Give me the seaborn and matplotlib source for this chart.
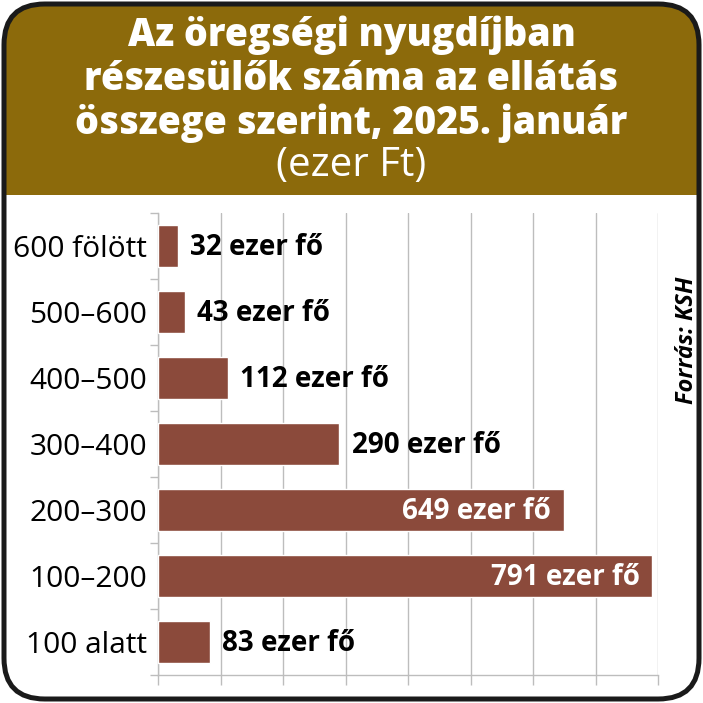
import matplotlib
matplotlib.use("Agg")
import matplotlib.pyplot as plt
import seaborn as sns
import pandas as pd
from matplotlib.patches import FancyBboxPatch, Rectangle
from matplotlib.ticker import MultipleLocator, FixedLocator

categories = ["600 fölött", "500–600", "400–500", "300–400", "200–300", "100–200", "100 alatt"]
values = [32, 43, 112, 290, 649, 791, 83]
value_labels = ["32 ezer fő", "43 ezer fő", "112 ezer fő", "290 ezer fő", "649 ezer fő", "791 ezer fő", "83 ezer fő"]
title_lines = ["Az öregségi nyugdíjban", "részesülők száma az ellátás", "összege szerint, 2025. január"]
subtitle = "(ezer Ft)"
source = "Forrás: KSH"

HEADER = "#8C6A0B"
BAR = "#8B4A3B"
GRID = "#BDBDBD"
FONT = "Open Sans"

sns.set_theme(style="white")
plt.rcParams["font.family"] = [FONT, "DejaVu Sans"]

W = H = 703
fig = plt.figure(figsize=(W / 100, H / 100), dpi=100)
fig.patch.set_facecolor("white")

frame = FancyBboxPatch((4 / W, 4 / H), (W - 8) / W, (H - 8) / H,
                       boxstyle="round,pad=0,rounding_size=0.058",
                       transform=fig.transFigure, facecolor="white",
                       edgecolor="none", linewidth=0, zorder=-3)
fig.patches.append(frame)
header = Rectangle((0, (H - 195) / H), 1, 195 / H, transform=fig.transFigure,
                   facecolor=HEADER, edgecolor="none", zorder=-2)
header.set_clip_path(frame)
fig.patches.append(header)
frame2 = FancyBboxPatch((4 / W, 4 / H), (W - 8) / W, (H - 8) / H,
                        boxstyle="round,pad=0,rounding_size=0.058",
                        transform=fig.transFigure, facecolor="none",
                        edgecolor="#1a1a1a", linewidth=3.6, zorder=10)
fig.patches.append(frame2)

for i, line in enumerate(title_lines):
    fig.text(0.5, 1 - (35 + 44 * i) / H, line, ha="center", va="center",
             color="white", fontsize=27, fontweight="heavy")
fig.text(0.5, 1 - 166 / H, subtitle, ha="center", va="center",
         color="white", fontsize=29, fontweight="normal")
fig.text(687 / W, 1 - 340 / H, source, ha="center", va="center", rotation=90,
         color="black", fontsize=17, fontweight="bold", style="italic")

ax = fig.add_axes([158 / W, (H - 675) / H, 500 / W, 462 / H])
df = pd.DataFrame({"cat": categories, "val": values})
sns.barplot(data=df, y="cat", x="val", orient="h", color=BAR, saturation=1,
            width=0.63, ax=ax, zorder=3)
ax.set_xlim(0, 800)
ax.set_ylim(6.5, -0.5)
ax.set_xlabel("")
ax.set_ylabel("")
ax.set_facecolor("none")

ax.xaxis.set_major_locator(MultipleLocator(100))
ax.set_xticklabels([])
ax.grid(axis="x", color=GRID, linewidth=1, zorder=0)
ax.grid(axis="y", visible=False)
ax.set_axisbelow(True)
ax.tick_params(axis="x", which="major", bottom=True, length=7, color=GRID, width=1, direction="out")
ax.tick_params(axis="y", which="major", left=False, length=0, labelsize=21.5, pad=8, labelcolor="black")
ax.yaxis.set_minor_locator(FixedLocator([i + 0.5 for i in range(-1, 7)]))
ax.tick_params(axis="y", which="minor", left=True, length=6, color=GRID, width=1, direction="out")

for s in ["top", "right"]:
    ax.spines[s].set_visible(False)
for s in ["left", "bottom"]:
    ax.spines[s].set_color(GRID)
    ax.spines[s].set_linewidth(1)

for i, (v, lab) in enumerate(zip(values, value_labels)):
    if v > 500:
        ax.annotate(lab, (v, i), xytext=(-9, -1), textcoords="offset points",
                    ha="right", va="center", color="white", fontsize=20,
                    fontweight="bold", zorder=5)
    else:
        ax.annotate(lab, (v, i), xytext=(9, -1), textcoords="offset points",
                    ha="left", va="center", color="black", fontsize=20,
                    fontweight="bold", zorder=5)

fig.savefig("out.png", dpi=100, facecolor="white")
